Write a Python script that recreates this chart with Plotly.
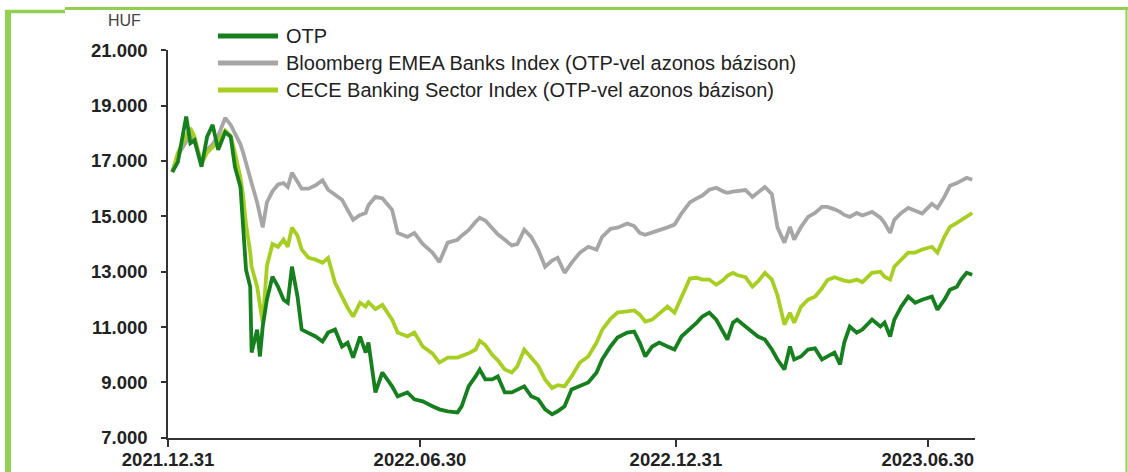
import plotly.graph_objects as go

# ---------------- data ----------------
dates = [
    "2022-01-03", "2022-01-07", "2022-01-13", "2022-01-16", "2022-01-19", "2022-01-24", "2022-01-28", "2022-02-01", "2022-02-05", "2022-02-10",
    "2022-02-14", "2022-02-17", "2022-02-21", "2022-02-23", "2022-02-25", "2022-02-28", "2022-03-01", "2022-03-05", "2022-03-07", "2022-03-09",
    "2022-03-12", "2022-03-16", "2022-03-20", "2022-03-24", "2022-03-27", "2022-03-30", "2022-04-03", "2022-04-06", "2022-04-11", "2022-04-16",
    "2022-04-21", "2022-04-25", "2022-04-30", "2022-05-05", "2022-05-09", "2022-05-13", "2022-05-18", "2022-05-22", "2022-05-24", "2022-05-29",
    "2022-06-03", "2022-06-10", "2022-06-14", "2022-06-21", "2022-06-26", "2022-07-02", "2022-07-09", "2022-07-14", "2022-07-20", "2022-07-27",
    "2022-07-30", "2022-08-04", "2022-08-09", "2022-08-12", "2022-08-16", "2022-08-21", "2022-08-25", "2022-08-30", "2022-09-04", "2022-09-08",
    "2022-09-13", "2022-09-18", "2022-09-23", "2022-09-28", "2022-10-03", "2022-10-07", "2022-10-12", "2022-10-17", "2022-10-23", "2022-10-29",
    "2022-11-04", "2022-11-08", "2022-11-14", "2022-11-19", "2022-11-26", "2022-12-01", "2022-12-05", "2022-12-09", "2022-12-14", "2022-12-19",
    "2022-12-25", "2022-12-30", "2023-01-04", "2023-01-10", "2023-01-15", "2023-01-19", "2023-01-24", "2023-01-29", "2023-02-03", "2023-02-06",
    "2023-02-10", "2023-02-13", "2023-02-19", "2023-02-24", "2023-02-28", "2023-03-05", "2023-03-10", "2023-03-14", "2023-03-19", "2023-03-23",
    "2023-03-26", "2023-03-31", "2023-04-05", "2023-04-10", "2023-04-15", "2023-04-19", "2023-04-24", "2023-04-28", "2023-05-01", "2023-05-05",
    "2023-05-10", "2023-05-14", "2023-05-21", "2023-05-27", "2023-05-30", "2023-06-03", "2023-06-06", "2023-06-11", "2023-06-16", "2023-06-21",
    "2023-06-26", "2023-07-03", "2023-07-07", "2023-07-12", "2023-07-16", "2023-07-21", "2023-07-24", "2023-07-28", "2023-08-01",
]

otp = [
    16600, 16960, 18600, 17640, 17750, 16790, 17870, 18300, 17400, 18040,
    17870, 16790, 16060, 14620, 13070, 12460, 10080, 10910, 9940, 11020,
    11990, 12820, 12460, 11990, 11880, 13180, 12100, 10910, 10800, 10660,
    10480, 10800, 10910, 10300, 10440, 9900, 10660, 10080, 10440, 8640,
    9360, 8860, 8500, 8640, 8390, 8320, 8140, 8030, 7960, 7920,
    8140, 8860, 9220, 9470, 9110, 9110, 9220, 8640, 8640, 8750,
    8860, 8500, 8390, 8030, 7850, 7960, 8140, 8750, 8860, 9000,
    9360, 9830, 10300, 10620, 10800, 10840, 10440, 9940, 10300, 10440,
    10300, 10190, 10660, 10910, 11160, 11380, 11520, 11270, 10800, 10550,
    11160, 11270, 11020, 10800, 10660, 10550, 10190, 9830, 9470, 10300,
    9830, 9940, 10190, 10230, 9830, 9940, 10080, 9650, 10440, 11020,
    10800, 10910, 11270, 11020, 11160, 10660, 11270, 11740, 12100, 11880,
    11990, 12100, 11630, 11990, 12350, 12460, 12715, 12960, 12890,
]

bloomberg = [
    16600, 17200, 17700, 18000, 17700, 16900, 17400, 17600, 17900, 18550,
    18300, 18000, 17600, 17290, 16900, 16400, 16200, 15500, 15000, 14600,
    15500, 15900, 16150, 16200, 16060, 16570, 16250, 16000, 16000, 16120,
    16300, 15960, 15780, 15600, 15235, 14875, 15050, 15120, 15400, 15700,
    15650, 15235, 14400, 14260, 14400, 14000, 13690, 13350, 14050, 14155,
    14300, 14500, 14800, 14950, 14850, 14550, 14350, 14150, 13950, 14000,
    14515, 14260, 13795, 13180, 13400, 13500, 12960, 13320, 13690, 13900,
    13795, 14260, 14550, 14590, 14740, 14650, 14400, 14330, 14400, 14500,
    14600, 14700, 15100, 15500, 15650, 15750, 15960, 16030, 15900, 15850,
    15890, 15920, 15950, 15700, 15850, 16060, 15800, 14600, 14050, 14620,
    14155, 14620, 14980, 15120, 15340, 15340, 15250, 15160, 15050, 14980,
    15120, 15030, 15160, 14950, 14760, 14400, 14875, 15120, 15300, 15200,
    15100, 15450, 15300, 15700, 16100, 16200, 16280, 16390, 16320,
]

cece = [
    16600, 17290, 17900, 18190, 17870, 16900, 17300, 17500, 17700, 18100,
    17900, 17300, 16400, 15700, 14700, 13700, 13180, 12460, 11800, 11150,
    13200, 14000, 13900, 14155, 13900, 14590, 14300, 13800, 13500, 13435,
    13320, 13500, 12600, 12100, 11700, 11380, 11880, 11740, 11900, 11650,
    11800, 11270, 10800, 10660, 10800, 10300, 10050, 9720, 9900, 9900,
    9950, 10050, 10190, 10500, 10350, 10000, 9800, 9470, 9360, 9580,
    10190, 9900, 9600, 9100, 8800, 8900, 8860, 9220, 9720, 9940,
    10440, 10900, 11300, 11520, 11580, 11600, 11450, 11200, 11270, 11500,
    11740, 11520, 12100, 12750, 12780, 12715, 12715, 12530, 12700, 12850,
    12960, 12880, 12800, 12460, 12650, 12960, 12715, 12150, 11090, 11520,
    11160, 11740, 11990, 12100, 12400, 12700, 12800, 12715, 12680, 12640,
    12715, 12620, 12960, 13000, 12820, 12715, 13180, 13435, 13690, 13690,
    13800, 13900, 13690, 14260, 14620, 14760, 14850, 15000, 15120,
]

series_names = [
    "OTP",
    "Bloomberg EMEA Banks Index (OTP-vel azonos bázison)",
    "CECE Banking Sector Index (OTP-vel azonos bázison)",
]
y_tick_values = [7000, 9000, 11000, 13000, 15000, 17000, 19000, 21000]
y_tick_labels = ["7.000", "9.000", "11.000", "13.000", "15.000", "17.000", "19.000", "21.000"]
x_tick_dates = ["2021-12-31", "2022-06-30", "2022-12-31", "2023-06-30"]
x_tick_labels = ["2021.12.31", "2022.06.30", "2022.12.31", "2023.06.30"]
y_unit = "HUF"

# ---------------- styling ----------------
C_OTP = "#16801e"
C_BBG = "#a6a6a6"
C_CECE = "#a6cf22"
C_FRAME = "#92d050"
FONT = "Liberation Sans"

W, H = 1128, 472
L, R, T, B = 168, 153, 50, 34
PW, PH = W - L - R, H - T - B


def px(x):
    return (x - L) / PW


def py(y):
    return 1 - (y - T) / PH


fig = go.Figure()
for name, vals, col in [
    (series_names[1], bloomberg, C_BBG),
    (series_names[2], cece, C_CECE),
    (series_names[0], otp, C_OTP),
]:
    fig.add_trace(go.Scatter(x=dates, y=vals, mode="lines", name=name,
                             line=dict(color=col, width=3.8), showlegend=False))

shapes = []
annotations = []

# legend (manual, long line samples)
for i, (name, col) in enumerate(zip(series_names, [C_OTP, C_BBG, C_CECE])):
    yy = py(36 + 27 * i)
    shapes.append(dict(type="line", xref="paper", yref="paper", x0=px(218), x1=px(278),
                       y0=yy, y1=yy, line=dict(color=col, width=5)))
    annotations.append(dict(xref="paper", yref="paper", x=px(284), y=yy, text=name,
                            showarrow=False, xanchor="left", yanchor="middle",
                            font=dict(family=FONT, size=20, color="#222222")))

# unit label
annotations.append(dict(xref="paper", yref="paper", x=px(124), y=py(20), text=y_unit,
                        showarrow=False, xanchor="center", yanchor="middle",
                        font=dict(family=FONT, size=16, color="#444444")))

# green frame
frame = [
    (65, 8.5, 1128, 8.5, 3),
    (5, 11.5, 65, 11.5, 3.5),
    (8, 10, 8, 472, 6),
    (1126.5, 7, 1126.5, 472, 2),
]
for x0, y0, x1, y1, w in frame:
    shapes.append(dict(type="line", xref="paper", yref="paper", x0=px(x0), x1=px(x1),
                       y0=py(y0), y1=py(y1), line=dict(color=C_FRAME, width=w)))

fig.update_layout(
    width=W, height=H,
    margin=dict(l=L, r=R, t=T, b=B, pad=0, autoexpand=False),
    paper_bgcolor="white", plot_bgcolor="white",
    font=dict(family=FONT, color="#222222"),
    shapes=shapes, annotations=annotations,
    showlegend=False,
)
fig.update_xaxes(
    type="date", range=["2021-12-30 22:00", "2023-08-03"],
    tickvals=x_tick_dates, ticktext=x_tick_labels,
    ticks="outside", ticklen=7, tickwidth=1.5, tickcolor="#333333",
    showline=True, linecolor="#333333", linewidth=1.5,
    showgrid=False, zeroline=False, automargin=False,
    tickfont=dict(family=FONT, size=18.5, color="#222222", weight="bold"),
    ticklabelstandoff=-3,
)
fig.update_yaxes(
    range=[6995, 21005],
    tickvals=y_tick_values, ticktext=y_tick_labels,
    ticks="outside", ticklen=5, tickwidth=1.5, tickcolor="#333333",
    showline=True, linecolor="#333333", linewidth=1.5,
    showgrid=False, zeroline=False, automargin=False,
    tickfont=dict(family=FONT, size=18.5, color="#222222", weight="bold"),
    ticklabelstandoff=10,
)

fig.write_html("out.html")
